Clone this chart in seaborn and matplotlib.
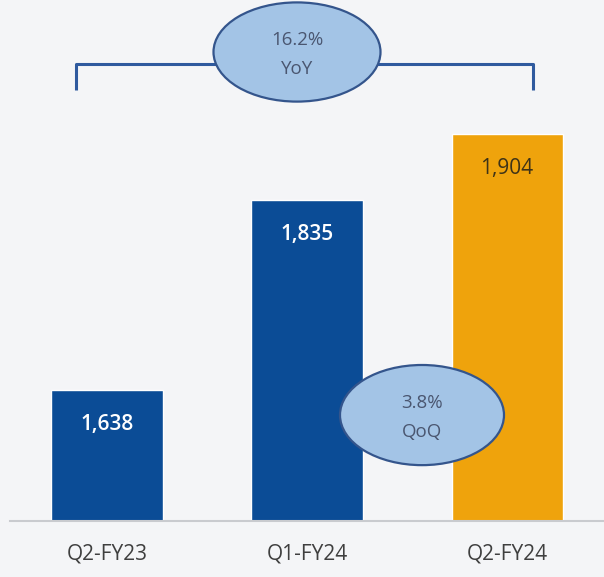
import pandas as pd
import numpy as np
import matplotlib
matplotlib.use("Agg")
import matplotlib.pyplot as plt
import seaborn as sns
from matplotlib.patches import Ellipse

sns.set_theme(style="white")
plt.rcParams["font.family"] = ["Open Sans", "DejaVu Sans"]

# ---------------------------------------------------------------
# Data
# ---------------------------------------------------------------
quarters = ["Q2-FY23", "Q1-FY24", "Q2-FY24"]
values = [1638, 1835, 1904]
bar_colors = ["#0B4C96", "#0B4C96", "#EFA30C"]
label_colors = ["white", "white", "#3E3318"]

df = pd.DataFrame({"quarter": quarters, "value": values})

yoy = values[2] / values[0] - 1
qoq = values[2] / values[1] - 1

# ---------------------------------------------------------------
# Figure
# ---------------------------------------------------------------
fig = plt.figure(figsize=(6.04, 5.77), dpi=100)
fig.patch.set_facecolor("#F4F5F7")
ax = fig.add_axes([10 / 604, 56 / 577, 594 / 604, 521 / 577])
ax.set_facecolor("#F4F5F7")

sns.barplot(data=df, x="quarter", y="value", hue="quarter",
            palette=dict(zip(quarters, bar_colors)), legend=False,
            width=0.555, saturation=1, ax=ax)

ax.set_xlim(-0.485, 2.485)
ax.set_ylim(1502, 2043)

# value labels inside bars
for i, (v, c) in enumerate(zip(values, label_colors)):
    ax.text(i, v - 36, f"{v:,}", ha="center", va="center",
            fontsize=15, color=c, fontweight="semibold" if c == "white" else "normal")

# YoY bracket
bc = "#2F5A9E"
ax.plot([-0.155, -0.155, 2.13, 2.13], [1950, 1977, 1977, 1950],
        color=bc, linewidth=2.2, solid_capstyle="butt", zorder=3)

def bubble(x, y, w, h, pct, tag):
    e = Ellipse((x, y), w, h, facecolor="#A3C4E6", edgecolor="#34558C",
                linewidth=1.6, zorder=5)
    ax.add_patch(e)
    ax.text(x, y + h * 0.12, f"{pct:.1%}", ha="center", va="center",
            fontsize=13.5, color="#4A5670", zorder=6)
    ax.text(x, y - h * 0.17, tag, ha="center", va="center",
            fontsize=13.5, color="#4A5670", zorder=6)

bubble(0.95, 1989, 0.835, 103, yoy, "YoY")
bubble(1.575, 1612, 0.82, 104, qoq, "QoQ")

# axes styling
for s in ["top", "left", "right"]:
    ax.spines[s].set_visible(False)
ax.spines["bottom"].set_color("#C9CBCF")
ax.spines["bottom"].set_linewidth(1.5)
ax.set_yticks([])
ax.set_xlabel("")
ax.set_ylabel("")
ax.tick_params(axis="x", length=0, pad=16, labelsize=15, labelcolor="#3F3F3F")

fig.savefig("out.png", dpi=100, facecolor=fig.get_facecolor())
plt.close(fig)
